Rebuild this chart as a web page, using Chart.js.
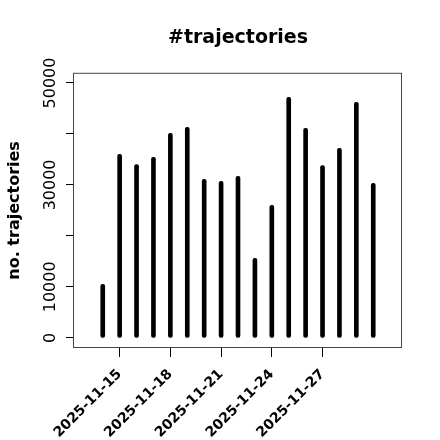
<!DOCTYPE html>
<html>
<head>
<meta charset="utf-8">
<script src="https://cdn.jsdelivr.net/npm/chart.js@4/dist/chart.umd.min.js"></script>
<style>
  html, body { margin: 0; padding: 0; background: #fff; }
  canvas { display: block; }
</style>
</head>
<body>
<canvas id="chart" width="440" height="440"></canvas>
<script>
// Data
const dates = [
  "2025-11-14", "2025-11-15", "2025-11-16", "2025-11-17", "2025-11-18",
  "2025-11-19", "2025-11-20", "2025-11-21", "2025-11-22", "2025-11-23",
  "2025-11-24", "2025-11-25", "2025-11-26", "2025-11-27", "2025-11-28",
  "2025-11-29", "2025-11-30",
];
const counts = [
  10500, 36000, 34000, 35400, 40100, 41300, 31100, 30700, 31700,
  15600, 26000, 47200, 41100, 33800, 37200, 46200, 30300,
];
const xTickLabels = ["2025-11-15", "2025-11-18", "2025-11-21", "2025-11-24", "2025-11-27"];
const yTicks = [0, 10000, 20000, 30000, 40000, 50000];
const yTickLabels = ["0", "10000", "", "30000", "", "50000"];

const FONT = "'DejaVu Sans', sans-serif";
const dayOf = (d) => Number(d.slice(8));

// Box + rotated y tick labels (R style)
const rStyle = {
  id: "rStyle",
  afterDraw(chart) {
    const { ctx, chartArea: a, scales } = chart;
    ctx.save();
    ctx.strokeStyle = "#444";
    ctx.lineWidth = 1;
    ctx.strokeRect(a.left - 0.5, a.top + 0.5, a.right - a.left, a.bottom - a.top - 1);

    ctx.fillStyle = "#000";
    ctx.font = `16px ${FONT}`;
    ctx.textAlign = "center";
    ctx.textBaseline = "alphabetic";
    yTicks.forEach((v, i) => {
      if (!yTickLabels[i]) return;
      const y = scales.y.getPixelForValue(v);
      ctx.save();
      ctx.translate(55, y);
      ctx.rotate(-Math.PI / 2);
      ctx.fillText(yTickLabels[i], 0, 0);
      ctx.restore();
    });
    ctx.restore();
  },
};

new Chart(document.getElementById("chart"), {
  type: "bar",
  data: {
    datasets: [{
      data: dates.map((d, i) => ({ x: dayOf(d), y: counts[i] })),
      backgroundColor: "#000",
      barThickness: 4,
      borderRadius: 2,
      borderSkipped: false,
    }],
  },
  options: {
    responsive: false,
    animation: false,
    devicePixelRatio: 1,
    layout: { padding: { left: 0, right: 38, top: 0, bottom: 0 } },
    plugins: {
      legend: { display: false },
      tooltip: { enabled: false },
      title: {
        display: true,
        text: "#trajectories",
        fullSize: false,
        color: "#000",
        font: { family: FONT, size: 19, weight: "bold" },
        padding: { top: 27, bottom: 23 },
      },
    },
    scales: {
      x: {
        type: "linear",
        min: 12.3,
        max: 31.7,
        offset: false,
        grid: { display: true, drawOnChartArea: false, drawTicks: true, tickLength: 9, color: "#000", offset: false },
        border: { display: false },
        afterBuildTicks: (s) => { s.ticks = xTickLabels.map((l) => ({ value: dayOf(l) })); },
        afterFit: (s) => { s.height = 92; },
        ticks: {
          autoSkip: false,
          minRotation: 45,
          maxRotation: 45,
          padding: 9,
          color: "#000",
          font: { family: FONT, size: 14, weight: "bold" },
          callback: (v) => xTickLabels.find((l) => dayOf(l) === v) ?? "",
        },
      },
      y: {
        min: -2000,
        max: 52000,
        grid: { display: true, drawOnChartArea: false, drawTicks: true, tickLength: 8, color: "#000" },
        border: { display: false },
        afterBuildTicks: (s) => { s.ticks = yTicks.map((v) => ({ value: v })); },
        afterFit: (s) => { s.width = 74; },
        ticks: { display: false },
        title: {
          display: true,
          text: "no. trajectories",
          color: "#000",
          font: { family: FONT, size: 16, weight: "bold" },
          padding: { top: 5, bottom: 0 },
        },
      },
    },
  },
  plugins: [rStyle],
});
</script>
</body>
</html>
